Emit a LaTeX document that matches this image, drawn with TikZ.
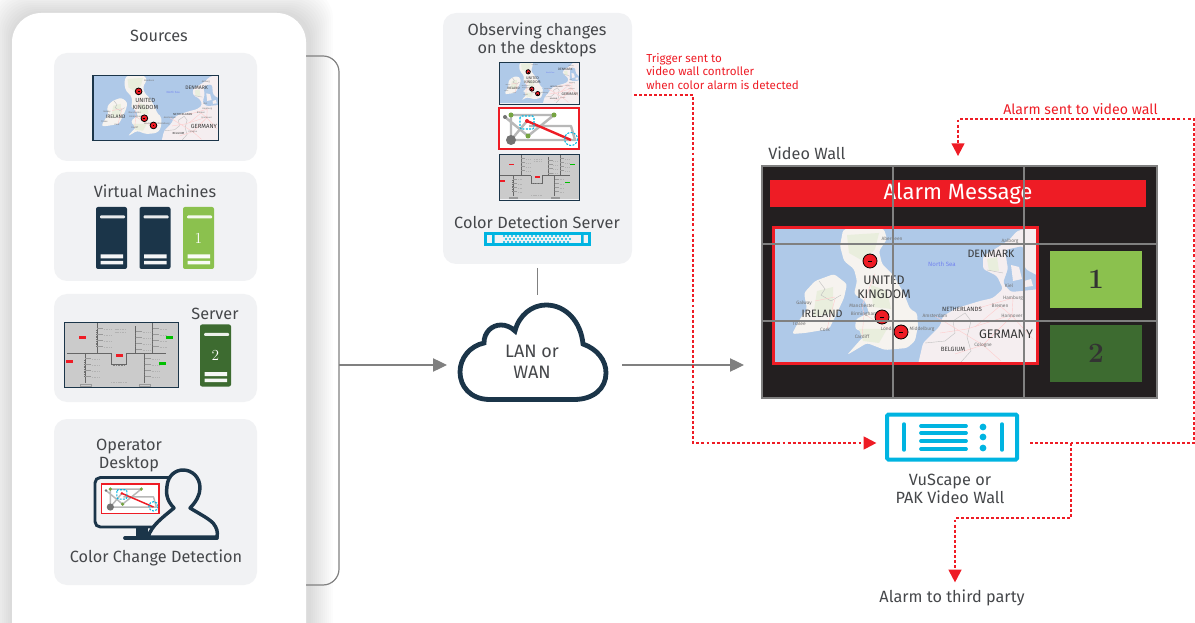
\documentclass[tikz,border=0pt]{standalone}
\usepackage{fontspec}
\setsansfont{Fira Sans}
\renewcommand{\familydefault}{\sfdefault}
\usetikzlibrary{arrows.meta}

\definecolor{ink}{HTML}{45474A}
\definecolor{navy}{HTML}{1B3549}
\definecolor{panelgray}{HTML}{F1F2F4}
\definecolor{alarm}{HTML}{EE1C25}
\definecolor{lime}{HTML}{8BC14E}
\definecolor{forest}{HTML}{3D6B30}
\definecolor{vucyan}{HTML}{00B4E1}
\definecolor{gridgray}{HTML}{808080}
\definecolor{sea}{HTML}{AFC9E8}
\definecolor{land}{HTML}{F6F3EF}
\definecolor{contland}{HTML}{F5EEF0}
\definecolor{moor}{HTML}{E9EEDD}
\definecolor{wallblack}{HTML}{231F20}
\definecolor{schembg}{HTML}{CBCBCB}

\tikzset{
  lab/.style={font=\fontsize{12.2}{13.5}\selectfont,text=ink,inner sep=0pt,align=center},
  tiny lab/.style={font=\fontsize{8.7}{10.2}\selectfont,text=alarm,inner sep=0pt,align=left,anchor=west},
  maplab/.style={font=\fontsize{8}{8.8}\selectfont,text=black!78,inner sep=0pt,align=center},
  citylab/.style={font=\fontsize{3.6}{4}\selectfont,text=black!55,inner sep=0pt},
  panelbox/.style={fill=panelgray,rounded corners=9.75pt},
  flow/.style={draw=gridgray,line width=.9pt,-{Triangle[length=10.5pt,width=10pt]}},
  alarmline/.style={draw=alarm,line width=1.1pt,dash pattern=on 2.2pt off 1.6pt,
    -{Triangle[length=9.5pt,width=10pt,line width=0pt,fill=alarm]}},
  sized/.style 2 args={minimum width=#1*.75pt,minimum height=#2*.75pt,inner sep=0pt,outer sep=0pt},
  pics/mapthumb/.style={code={
    \fill[sea] (0,0) rectangle (261,133);
    \begin{scope}
      \clip (0,0) rectangle (261,133);
      % britain, ireland, the continent
      \fill[land,rounded corners=2pt] (68,1) -- (80,-3) -- (109,0) -- (112,10) -- (104,22) -- (107,35) -- (119,47) -- (129,65) -- (135,80) -- (142,84) -- (143,97) -- (140,112) -- (132,119) -- (110,121) -- (92,114) -- (72,126) -- (87,109) -- (94,105) -- (80,100) -- (81,90) -- (94,84) -- (90,72) -- (79,65) -- (82,52) -- (79,40) -- (69,32) -- (65,17) -- cycle;
      \fill[land,rounded corners=2pt] (40,52) -- (59,45) -- (72,55) -- (69,69) -- (62,84) -- (54,100) -- (30,104) -- (17,105) -- (25,90) -- (32,80) -- (29,64) -- cycle;
      \fill[contland,rounded corners=2pt] (142,140) -- (148,114) -- (165,97) -- (168,87) -- (182,79) -- (205,72) -- (218,69) -- (228,60) -- (222,47) -- (208,40) -- (208,27) -- (225,17) -- (235,10) -- (242,2) -- (270,-5) -- (270,140) -- cycle;
      \fill[sea,rounded corners=2pt] (230,21) -- (248,17) -- (250,40) -- (265,48) -- (265,60) -- (236,63) -- (228,54) -- (233,40) -- cycle;
      \fill[contland] (236,36) -- (244,38) -- (247,50) -- (238,52) -- cycle;
      \fill[contland] (249,52) -- (256,50) -- (258,57) -- (250,58) -- cycle;
      \fill[moor] (72,6) -- (104,4) -- (100,20) -- (88,32) -- (74,24) -- cycle;
      \fill[moor] (96,56) -- (112,62) -- (116,80) -- (98,78) -- cycle;
      \fill[moor] (84,100) -- (112,100) -- (104,114) -- (88,112) -- cycle;
      \fill[moor] (42,62) -- (58,58) -- (58,84) -- (38,88) -- cycle;
      \fill[moor] (212,30) -- (222,28) -- (224,42) -- (214,42) -- cycle;
      % borders and roads
      \draw[black!25,line width=.3pt] (150,114) -- (170,112) -- (180,104) -- (178,92) -- (190,84) -- (196,92) -- (192,108) -- (196,122) -- (186,133);
      \draw[black!25,line width=.3pt] (212,41) -- (228,44);
      \draw[black!25,line width=.3pt] (44,52) -- (50,60) -- (46,66) -- (56,72) -- (66,66);
      \foreach \ra/\rb/\rc/\rd in {200/80/238/69,238/69/237/87,237/87/208/116,225/77/237/87,160/87/208/116,208/116/226/132,180/125/208/116,237/87/258/110,225/77/200/98,165/104/192/100,192/100/230/88,89/85/114/100,87/77/89/85,89/85/87/108,114/100/135/104,87/77/100/45,40/72/60/68,52/100/60/70}
        \draw[red!20!white,line width=.3pt] (\ra,\rb) -- (\rc,\rd);
    \end{scope}
    \foreach \cx/\cy/\cn [count=\ci] in {117/10/Aberdeen,87/77/Manchester,89/85/Birmingham,29/74/Galway,24/95/Tralee,50/101/Cork,87/108/Cardiff,114/100/London,238/69/Hamburg,225/77/Bremen,237/87/Hannover,160/87/Amsterdam,208/116/Cologne,147/100/Middelburg,235/12/Aalborg,234/57/Kiel}
      \node[citylab] (city\ci) at (\cx,\cy) {\cn};
    \node[maplab,font=\fontsize{9.3}{10.6}\selectfont] (kingdom) at (109,58.5) {UNITED\\KINGDOM};
    \node[maplab] (ireland) at (47,85) {IRELAND};
    \node[maplab] (denmark) at (216,25) {DENMARK};
    \node[maplab,font=\fontsize{9.3}{10.6}\selectfont] (germany) at (231,105) {GERMANY};
    \node[maplab,font=\fontsize{4.6}{5}\selectfont] (holland) at (187,80) {NETHERLANDS};
    \node[maplab,font=\fontsize{4.6}{5}\selectfont] (belgium) at (178,120) {BELGIUM};
    \node[maplab,font=\fontsize{4.6}{5}\selectfont,text=blue!35!sea] (northsea) at (167,35) {North Sea};
    \foreach \mx/\my in {95/32,107/88,126/103} {
      \draw[black,fill=alarm,line width=.6pt] (\mx,\my) circle (7);
      \fill[black] (\mx-2,\my) rectangle (\mx+2,\my+1);
    }
  }},
  pics/netthumb/.style={code={
    \fill[white] (0,0) rectangle (80,41);
    \draw[black!28,line width=#1,line join=round] (6,9) -- (29,28) -- (55,7) -- (12,7) -- (12,32) -- (76,32) -- (72,18) -- (30,18);
    \draw[black!28,line width=#1] (12,32) -- (28,13);
    \fill[black!55] (12,32) circle (5);
    \fill[black!55] (6,9) circle (2);
    \foreach \gx/\gy in {12/7,55/7,29/28} \fill[lime!85!black] (\gx,\gy) circle (2.5);
    \draw[alarm,line width=#1] (28,13) -- (72,32);
    \fill[alarm] (28,13) circle (2);
    \draw[vucyan,line width=.8pt,dash pattern=on 1.5pt off 1pt,rounded corners=1pt] (21,8) rectangle (35,21);
    \draw[vucyan,line width=.8pt,dash pattern=on 1.5pt off 1pt] (72,31) circle (6.5);
  }},
  pics/schemthumb/.style={code={
    \fill[schembg] (0,0) rectangle (115,65);
    \draw[black!60,line width=.35pt] (2,31) -- (46,31) (62,31) -- (102,31);
    \draw[black!60,line width=.35pt] (46,31) -- (46,42) -- (62,42) -- (62,31);
    \draw[black!50,line width=.7pt,dash pattern=on .5pt off .7pt] (48,43) -- (60,43);
    \foreach \vx/\vtop/\vbot in {32/1/31,71/4/31,88/1/31,20/31/61,80/31/61} {
      \draw[black!60,line width=.35pt] (\vx,\vtop) -- (\vx,\vbot);
      \draw[black!55,line width=.8pt,dash pattern=on .6pt off .7pt] (\vx,\vtop+7) -- (\vx,\vbot-7);
      \foreach \ty in {5,11,17,23} {
        \draw[black!40,line width=.35pt] (\vx,\vtop+\ty) -- (\vx+6,\vtop+\ty);
        \draw[black!30,line width=.5pt,dash pattern=on .8pt off .5pt] (\vx+7,\vtop+\ty+1) -- (\vx+14,\vtop+\ty+1);
      }
    }
    \draw[black!30,line width=.5pt,dash pattern=on .8pt off .5pt] (50,7) -- (62,7) (50,10) -- (62,10) (46,60) -- (62,60);
    \draw[black!40,line width=.35pt] (15,62) rectangle (26,64) (75,62) rectangle (86,64);
    \foreach \bx/\by in {18/15,5/39,55/33} \fill[alarm] (\bx-3.5,\by-1.3) rectangle (\bx+3.5,\by+1.3);
    \foreach \bx/\by in {105/15,98/41} \fill[green!75!black] (\bx-3.5,\by-1.3) rectangle (\bx+3.5,\by+1.3);
  }},
  pics/rack/.style 2 args={code={
    \fill[#1,rounded corners=1.5pt] (0,0) rectangle (31,62);
    \fill[white!90!#1,rounded corners=.75pt] (4,8.5) rectangle (29,11.5);
    \fill[white!95!#1] (4.5,47.5) rectangle (27,51.5) (4.5,54) rectangle (27,57.5);
    \node[inner sep=0pt,text=white,font=\rmfamily\fontsize{11.5}{12}\selectfont] (num) at (15.5,31) {#2};
  }},
}

\begin{document}
\begin{tikzpicture}[x=.75pt,y=-.75pt]
\useasboundingbox (0,0) rectangle (1195,623);

%left card with its soft shadow
\foreach \s in {24,22,...,2}
  \fill[black,opacity=.012,rounded corners=22pt] (12-\s,13-\s) rectangle (306+\s+3,660);
\fill[white,rounded corners=22pt] (12,13) rectangle (306,660);

%bracket from the sources
\coordinate (srctop) at (306,56);
\coordinate (srcbot) at (306,585);
\coordinate (busL) at (339,365);
\draw[gridgray,line width=.9pt,rounded corners=12pt] (srctop) -| (busL) |- (srcbot);

%source panels
\fill[panelbox] (54,53) rectangle (257,161);
\fill[panelbox] (54,172) rectangle (257,281);
\fill[panelbox] (54,294) rectangle (257,402);
\fill[panelbox] (54,419) rectangle (257,585);
\node[lab] (sources) at (159,36) {Sources};
\pic[scale=.48,transform shape] (srcmap) at (93,76) {mapthumb};
\draw[navy,line width=.8pt] (93,75.5) rectangle (218.5,140.5);

\node[lab] (vms) at (155,191) {Virtual Machines};
\pic (vma) at (96,207) {rack={navy}{}};
\pic (vmb) at (139.5,207) {rack={navy}{}};
\pic (vmc) at (183,207) {rack={lime}{1}};

\pic[scale=.995,transform shape] (srcschem) at (65,322.5) {schemthumb};
\draw[navy,line width=.8pt] (64.5,322.5) rectangle (178.5,387.5);
\node[lab] (server) at (215,314) {Server};
\pic (srv) at (200,324.5) {rack={forest}{2}};

%operator desktop
\node[lab] (operator) at (129,455.5) {Operator\\Desktop};
\draw[navy,line width=2.2pt,rounded corners=4pt] (176,477.5) -- (95,477.5) -- (95,527) -- (176,527);
\fill[navy] (136,527) rectangle (148,538);
\draw[navy,line width=2.6pt,fill=panelgray,line join=round]
  (148,537) .. controls (152,525) and (162,518) .. (174,508)
  .. controls (166,500) and (166,492) .. (167,486)
  .. controls (168,475) and (176,470) .. (183,470)
  .. controls (192,470) and (200,477) .. (200,488)
  .. controls (200,495) and (196,502) .. (190,508)
  .. controls (198,513) and (208,518) .. (213,523)
  .. controls (217,528) and (218,532) .. (217,537) -- cycle;
\draw[navy,line width=2.8pt,line cap=round] (125,538) -- (217,538);
\pic[scale=.72,transform shape] (opnet) at (101.7,484) {netthumb=1.1pt};
\draw[alarm,line width=.8pt] (101.7,484) rectangle (159,513.5);
\node[lab] (detection) at (156,558) {Color Change Detection};

%observing panel
\node[panelbox,sized={189}{251}] (observe) at (537.5,138.5) {};
\node[lab] (observing) at (537,40) {Observing changes\\on the desktops};
\pic[scale=.307,transform shape] (obsmap) at (499,62) {mapthumb};
\draw[navy,line width=.5pt] (499,62) rectangle (579,104);
\pic[scale=1,transform shape] (obsnet) at (499,108) {netthumb=1.8pt};
\draw[alarm,line width=1.2pt] (499,108) rectangle (579,149);
\pic[scale=.696,transform shape] (obsschem) at (499,154) {schemthumb};
\draw[navy,line width=.5pt] (499,154) rectangle (579,200);
\node[lab] (colorserver) at (537,222) {Color Detection Server};
\node[draw=vucyan,line width=1.7pt,sized={104}{11}] (detect) at (537.5,239) {};
\fill[vucyan] (492,235) rectangle (494.5,243) (581,235) rectangle (583.5,243);
\foreach \i in {0,...,16} {
  \fill[vucyan] (504+\i*4,236) circle (1.1);
  \fill[vucyan] (504+\i*4,242) circle (1.1);
  \fill[vucyan] (506+\i*4,239) circle (1.1);
}

%cloud
\node[inner sep=0pt,sized={150}{99}] (cloud) at (533,352.5) {};
\draw[navy,line width=3.6pt]
  (490,399.5) .. controls (470,399.5) and (460,386) .. (460,372)
  .. controls (460,358) and (470,346) .. (484,343)
  .. controls (484,332) and (492,325) .. (501,325)
  .. controls (506,325) and (511,327) .. (515,331)
  .. controls (519,315) and (532,305) .. (546,305)
  .. controls (566,305) and (581,322) .. (583,344)
  .. controls (597,349) and (606,360) .. (606,373)
  .. controls (606,388) and (594,399.5) .. (574,399.5) -- cycle;
\node[lab,font=\fontsize{13.5}{15.8}\selectfont] (lan) at (532,362) {LAN or\\WAN};

%video wall
\node[lab,anchor=west] (walllabel) at (768,153) {Video Wall};
\node[fill=wallblack,draw=gridgray,line width=1.2pt,sized={395}{232}] (wall) at (959.5,282) {};
\node[fill=alarm,sized={376}{27},text=white,font=\fontsize{16.6}{18}\selectfont] (banner) at (958,193.5) {Alarm Message};
\pic (wallmap) at (775,229) {mapthumb};
\draw[alarm,line width=2.25pt] (773.5,227.5) rectangle (1037.5,363.5);
\node[fill=lime,sized={92}{57},font=\rmfamily\bfseries\fontsize{21}{23}\selectfont,text=black!80] (one) at (1096,279.5) {1};
\node[fill=forest,sized={92}{57},font=\rmfamily\bfseries\fontsize{21}{23}\selectfont,text=black!80] (two) at (1096,353.5) {2};
\foreach \vx in {893,1024}
  \draw[gridgray,line width=1.2pt] (\vx,166) -- (\vx,398);
\foreach \hy in {244,321}
  \draw[gridgray,line width=1.2pt] (762,\hy) -- (1157,\hy);

%video wall controller
\node[draw=vucyan,line width=3pt,rounded corners=1pt,sized={130}{45}] (vuscape) at (952,437) {};
\foreach \bx in {904,1002}
  \draw[vucyan,line width=2.6pt,line cap=round] (\bx,424) -- (\bx,450);
\foreach \ly in {426,433,441,449}
  \draw[vucyan,line width=2.8pt,line cap=round] (921,\ly) -- (966,\ly);
\foreach \dy in {427,437,448}
  \fill[vucyan] (983,\dy) circle (3.4);
\node[lab] (vulabel) at (950,489) {VuScape or\\PAK Video Wall};

%network links
\draw[flow,shorten >=11*.75pt] (busL) -- (busL -| cloud.west);
\draw[flow,shorten <=14*.75pt,shorten >=18*.75pt] (busL -| cloud.east) -- (busL -| wall.west);
\draw[gridgray,line width=.7pt,shorten <=3pt,shorten >=6pt] (observe.south) -- (observe.south |- cloud.north);

%alarm paths
\coordinate (trigstart) at (634,95);
\coordinate (trigbend) at (693,443);
\coordinate (vuout) at (1030,443);
\coordinate (rightbend) at (1194,119);
\coordinate (alarmtop) at (958,119);
\coordinate (branch) at (1071,443);
\coordinate (branchbend) at (955,518);
\node[lab] (third) at (952,598) {Alarm to third party};
\draw[alarmline,shorten >=8pt] (trigstart) -| (trigbend) -- (vuscape.west |- trigbend);
\draw[alarmline,shorten >=7.5pt] (vuout) -| (rightbend) -- (alarmtop) -- (alarmtop |- wall.north);
\draw[alarmline,shorten >=5.5pt] (branch) |- (branchbend) -- (branchbend |- third.north);
\node[tiny lab] (trigger) at (646,71.5) {Trigger sent to\\video wall controller\\when color alarm is detected};
\node[tiny lab,font=\fontsize{10.6}{12}\selectfont] (alarmsent) at (1003,109) {Alarm sent to video wall};

\end{tikzpicture}
\end{document}
